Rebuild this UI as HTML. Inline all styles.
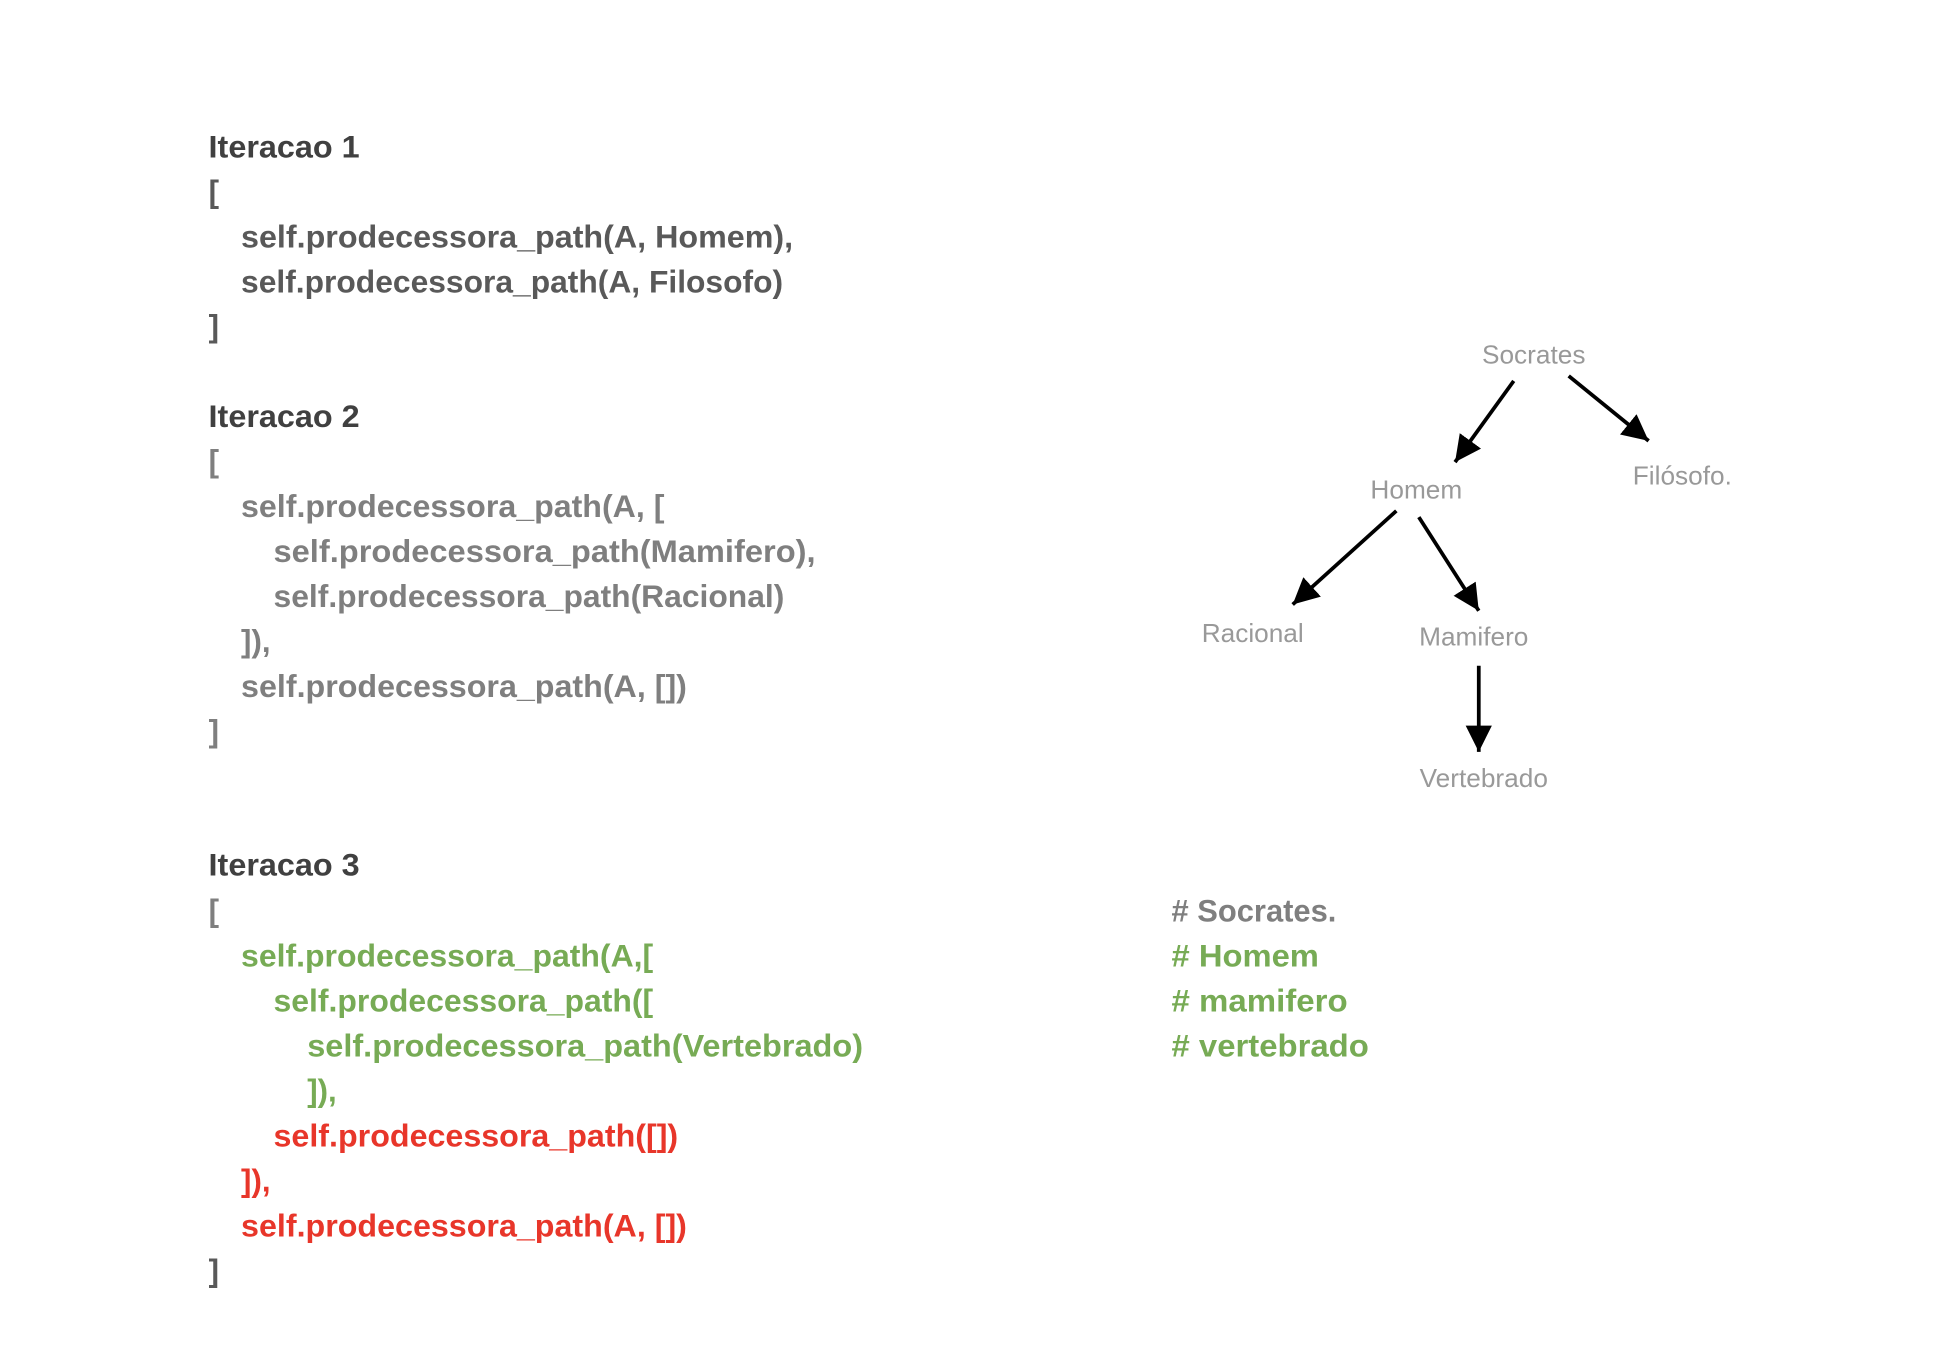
<!DOCTYPE html>
<html><head><meta charset="utf-8"><style>
html,body{margin:0;padding:0;background:#fff;}
svg{display:block;}
.c{font-family:"Liberation Sans",sans-serif;font-weight:bold;font-size:25px;}
.t{font-family:"Liberation Sans",sans-serif;font-size:21px;fill:#999;}
</style></head><body>
<svg width="1958" height="1372" viewBox="0 0 1567.7 1098.5" xmlns="http://www.w3.org/2000/svg">
<defs><marker id="a" viewBox="0 0 10 10" refX="10" refY="5" markerWidth="7" markerHeight="7" markerUnits="strokeWidth" orient="auto"><path d="M0,0 L10,5 L0,10 z" fill="#000"/></marker></defs>
<g class="c">
<text x="167" y="126" fill="#404040" textLength="121" lengthAdjust="spacingAndGlyphs">Iteracao 1</text>
<text x="167" y="162" fill="#595959">[</text>
<text x="193" y="198" fill="#595959" textLength="442" lengthAdjust="spacingAndGlyphs">self.prodecessora_path(A, Homem),</text>
<text x="193" y="234" fill="#595959" textLength="434" lengthAdjust="spacingAndGlyphs">self.prodecessora_path(A, Filosofo)</text>
<text x="167" y="270" fill="#595959">]</text>

<text x="167" y="342" fill="#404040" textLength="121" lengthAdjust="spacingAndGlyphs">Iteracao 2</text>
<text x="167" y="378" fill="#7f7f7f">[</text>
<text x="193" y="414" fill="#7f7f7f" textLength="339" lengthAdjust="spacingAndGlyphs">self.prodecessora_path(A, [</text>
<text x="219" y="450" fill="#7f7f7f" textLength="434" lengthAdjust="spacingAndGlyphs">self.prodecessora_path(Mamifero),</text>
<text x="219" y="486" fill="#7f7f7f" textLength="409" lengthAdjust="spacingAndGlyphs">self.prodecessora_path(Racional)</text>
<text x="193" y="522" fill="#7f7f7f">]),</text>
<text x="193" y="558" fill="#7f7f7f" textLength="357" lengthAdjust="spacingAndGlyphs">self.prodecessora_path(A, [])</text>
<text x="167" y="594" fill="#7f7f7f">]</text>

<text x="167" y="701" fill="#404040" textLength="121" lengthAdjust="spacingAndGlyphs">Iteracao 3</text>
<text x="167" y="738" fill="#7f7f7f">[</text>
<text x="193" y="774" fill="#77ab55" textLength="330" lengthAdjust="spacingAndGlyphs">self.prodecessora_path(A,[</text>
<text x="219" y="810" fill="#77ab55" textLength="304" lengthAdjust="spacingAndGlyphs">self.prodecessora_path([</text>
<text x="246" y="846" fill="#77ab55" textLength="445" lengthAdjust="spacingAndGlyphs">self.prodecessora_path(Vertebrado)</text>
<text x="246" y="882" fill="#77ab55">]),</text>
<text x="219" y="918" fill="#e8362a" textLength="324" lengthAdjust="spacingAndGlyphs">self.prodecessora_path([])</text>
<text x="193" y="954" fill="#e8362a">]),</text>
<text x="193" y="990" fill="#e8362a" textLength="357" lengthAdjust="spacingAndGlyphs">self.prodecessora_path(A, [])</text>
<text x="167" y="1026" fill="#595959">]</text>

<text x="938" y="738" fill="#7f7f7f" textLength="132" lengthAdjust="spacingAndGlyphs"># Socrates.</text>
<text x="938" y="774" fill="#77ab55" textLength="118" lengthAdjust="spacingAndGlyphs"># Homem</text>
<text x="938" y="810" fill="#77ab55" textLength="141" lengthAdjust="spacingAndGlyphs"># mamifero</text>
<text x="938" y="846" fill="#77ab55" textLength="158" lengthAdjust="spacingAndGlyphs"># vertebrado</text>
</g>

<g class="t" text-anchor="middle">
<text x="1228" y="291">Socrates</text>
<text x="1134" y="399">Homem</text>
<text x="1347" y="388">Filósofo.</text>
<text x="1003" y="514">Racional</text>
<text x="1180" y="517">Mamifero</text>
<text x="1188" y="630">Vertebrado</text>
</g>
<g stroke="#000" stroke-width="3" marker-end="url(#a)" fill="none">
<line x1="1212" y1="305" x2="1165" y2="370"/>
<line x1="1256" y1="301" x2="1320" y2="353"/>
<line x1="1118" y1="409" x2="1035" y2="484"/>
<line x1="1136" y1="414" x2="1184" y2="489"/>
<line x1="1184" y1="533" x2="1184" y2="602"/>
</g>
</svg>
</body></html>
